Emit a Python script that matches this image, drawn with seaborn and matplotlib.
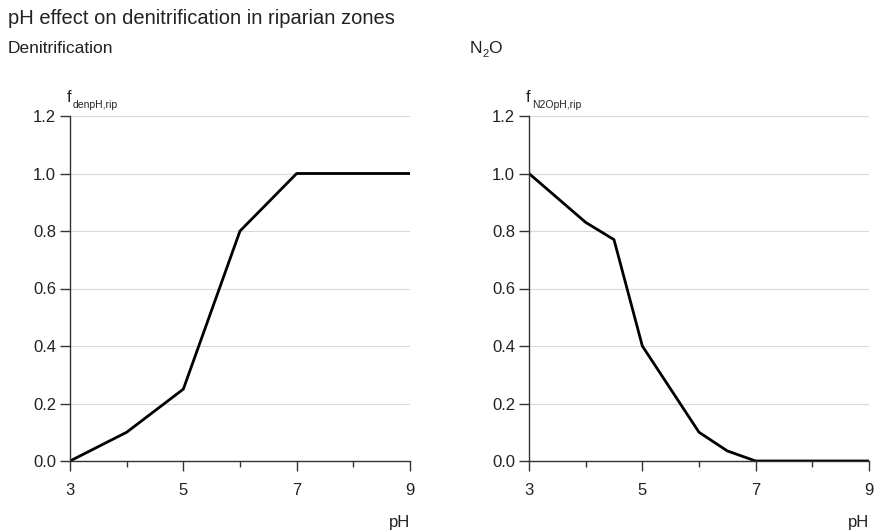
import matplotlib
matplotlib.use("Agg")
import matplotlib.pyplot as plt
import seaborn as sns
import pandas as pd

sns.set_theme(style="white")
plt.rcParams['font.family'] = ['Liberation Sans', 'DejaVu Sans']

title = "pH effect on denitrification in riparian zones"
den_ph = [3, 4, 5, 6, 7, 9]
den_f = [0.0, 0.1, 0.25, 0.8, 1.0, 1.0]
n2o_ph = [3, 4, 4.5, 5, 6, 6.5, 7, 9]
n2o_f = [1.0, 0.83, 0.77, 0.4, 0.1, 0.035, 0.0, 0.0]
xticks = [3, 5, 7, 9]
minor_xticks = [4, 6, 8]
yticks = [0.0, 0.2, 0.4, 0.6, 0.8, 1.0, 1.2]

fig = plt.figure(figsize=(8.75, 5.31), dpi=100)
fig.text(8/875, 1 - 18/531, title, fontsize=14.5, color="#222222", va="center", ha="left")

panels = [
    (70, 8, den_ph, den_f, [("Denitrification", 0, 0, 12.5)], "denpH,rip"),
    (529, 470, n2o_ph, n2o_f, [("N", 0, 0, 12.5), ("2", 9.0, -4, 8), ("O", 13.3, 0, 12.5)], "N2OpH,rip"),
]
for x0, sx, xs, ys, subparts, ylab in panels:
    ax = fig.add_axes([x0/875, (531-461)/531, 340/875, 345/531])
    df = pd.DataFrame({"pH": xs, "f": ys})
    sns.lineplot(data=df, x="pH", y="f", ax=ax, color="black", linewidth=2.0)
    ax.set_xlim(3, 9)
    ax.set_ylim(0, 1.2)
    ax.set_xticks(xticks)
    ax.set_xticks(minor_xticks, minor=True)
    ax.set_yticks(yticks)
    ax.set_yticklabels([f"{v:.1f}" for v in yticks])
    ax.tick_params(axis="x", which="major", length=7.5, width=1, color="#333333",
                   labelsize=12, labelcolor="#222222", pad=8, direction="out", bottom=True)
    ax.tick_params(axis="x", which="minor", length=4, width=1, color="#333333", bottom=True)
    ax.tick_params(axis="y", length=7, width=1, color="#333333", labelsize=12,
                   labelcolor="#222222", pad=3, direction="out", left=True)
    ax.grid(axis="y", color="#d9d9d9", linewidth=0.8)
    ax.set_axisbelow(True)
    for s in ["top", "right"]:
        ax.spines[s].set_visible(False)
    for s in ["left", "bottom"]:
        ax.spines[s].set_color("#333333")
        ax.spines[s].set_linewidth(1)
        ax.spines[s].set_clip_on(False)
    ax.set_xlabel("")
    ax.set_ylabel("")
    ax.text(1.0, -0.177, "pH", transform=ax.transAxes, ha="right", va="center",
            fontsize=12, color="#222222")
    for txt, dx, dy, fs in subparts:
        ax.annotate(txt, xy=(sx/875, 1 - 48/531), xycoords="figure fraction",
                    xytext=(dx, dy), textcoords="offset points", fontsize=fs,
                    color="#222222", ha="left", va="center")
    ax.annotate("f", xy=(0, 1), xycoords="axes fraction", xytext=(-2.2, 13.5),
                textcoords="offset points", fontsize=12, color="#222222",
                ha="left", va="center")
    ax.annotate(ylab, xy=(0, 1), xycoords="axes fraction", xytext=(2.2, 8),
                textcoords="offset points", fontsize=7.5, color="#222222",
                ha="left", va="center")

fig.savefig("out.png", dpi=100)
